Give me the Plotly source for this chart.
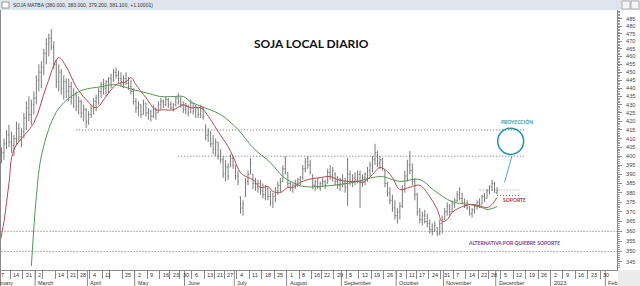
import math
import pandas as pd
import plotly.graph_objects as go

# ---------------- data ----------------
highs = [
    403, 405, 410, 415, 418, 414, 412, 420, 419, 416,
    425, 432, 435, 433, 438, 448, 455, 457, 465, 472,
    475, 478, 470, 458, 455, 452, 448, 446, 446, 444,
    440, 438, 435, 433, 430, 428, 426, 430, 434, 436,
    440, 444, 446, 445, 447, 449, 452, 453, 451, 450,
    448, 450, 447, 445, 440, 434, 432, 430, 433, 431,
    428, 427, 430, 428, 432, 434, 433, 435, 434, 432,
    431, 435, 437, 435, 432, 431, 430, 433, 431, 430,
    428, 430, 429, 418, 416, 414, 412, 410, 408, 404,
    400, 398, 396, 401, 400, 395, 392, 378, 376, 388,
    392, 399, 390, 388, 387, 387, 385, 384, 383, 381,
    380, 383, 386, 388, 395, 400, 391, 386, 385, 387,
    388, 389, 395, 399, 400, 398, 390, 387, 388, 386,
    388, 387, 393, 395, 394, 391, 389, 388, 390, 388,
    399, 392, 390, 391, 392, 392, 390, 391, 394, 397,
    400, 407, 403, 400, 399, 392, 386, 383, 379, 376,
    372, 375, 384, 392, 398, 403, 396, 388, 380, 372,
    370, 371, 369, 366, 364, 365, 362, 366, 368, 372,
    375, 374, 376, 377, 381, 383, 380, 377, 376, 373,
    372, 374, 376, 377, 379, 380, 382, 384, 387, 386,
    383]
lows = [
    392, 396, 398, 404, 405, 402, 400, 406, 408, 405,
    410, 415, 420, 418, 424, 430, 438, 440, 448, 455,
    460, 464, 452, 440, 438, 436, 433, 434, 432, 430,
    428, 426, 424, 422, 420, 416, 418, 422, 424, 426,
    430, 434, 436, 435, 437, 440, 444, 446, 443, 441,
    440, 442, 439, 436, 430, 425, 423, 422, 424, 423,
    421, 420, 422, 421, 425, 427, 428, 429, 428, 427,
    426, 429, 430, 428, 425, 424, 423, 425, 424, 422,
    422, 422, 421, 409, 408, 405, 401, 400, 398, 396,
    388, 386, 387, 394, 393, 387, 384, 369, 368, 378,
    384, 390, 382, 381, 380, 379, 377, 376, 376, 373,
    372, 375, 379, 380, 386, 390, 383, 381, 380, 382,
    383, 384, 387, 391, 393, 390, 382, 381, 382, 381,
    383, 382, 385, 387, 386, 384, 382, 381, 383, 380,
    373, 384, 383, 384, 385, 372, 383, 384, 386, 389,
    391, 395, 394, 393, 392, 383, 378, 374, 370, 366,
    364, 366, 372, 380, 386, 390, 384, 376, 368, 364,
    363, 364, 362, 359, 358, 360, 357.6, 358, 359, 366,
    368, 368, 370, 372, 375, 376, 374, 372, 371, 368,
    367, 369, 371, 372, 374, 375, 377, 379, 381, 380,
    379.2]
opens = [
    394, 400, 402, 407, 412, 408, 406, 410, 416, 411,
    414, 422, 428, 424, 430, 434, 445, 450, 453, 462,
    468, 472, 466, 455, 444, 450, 440, 444, 438, 441,
    434, 436, 429, 432, 425, 427, 420, 424, 428, 432,
    434, 438, 442, 440, 444, 446, 445, 450, 448, 446,
    444, 446, 443, 441, 438, 432, 428, 430, 424, 431,
    425, 426, 423, 428, 425, 430, 432, 430, 433, 430,
    428, 430, 434, 432, 430, 427, 429, 425, 431, 426,
    428, 424, 428, 418, 412, 414, 407, 404, 408, 400,
    398, 390, 394, 394, 399, 395, 389, 378, 372, 378,
    386, 390, 390, 385, 383, 385, 381, 379, 382, 378,
    375, 378, 381, 384, 386, 393, 391, 385, 383, 384,
    385, 387, 388, 393, 397, 395, 390, 384, 386, 383,
    385, 386, 385, 391, 389, 390, 386, 384, 387, 385,
    383, 390, 386, 388, 387, 390, 386, 388, 390, 392,
    395, 398, 402, 396, 398, 392, 385, 380, 376, 372,
    368, 370, 373, 382, 389, 395, 392, 386, 379, 370,
    366, 368, 365, 364, 361, 360, 362, 359, 364, 366,
    370, 373, 370, 374, 376, 379, 377, 375, 373, 372,
    369, 371, 373, 375, 374, 378, 377, 381, 383, 385,
    380]
closes = [
    400, 402, 407, 412, 408, 406, 410, 416, 411, 414,
    422, 428, 424, 430, 434, 445, 450, 453, 462, 468,
    472, 466, 455, 444, 450, 440, 444, 438, 441, 434,
    436, 429, 432, 425, 427, 420, 424, 428, 432, 434,
    438, 442, 440, 444, 446, 442, 450, 448, 446, 444,
    446, 443, 441, 438, 432, 428, 430, 424, 431, 425,
    426, 423, 428, 425, 430, 432, 430, 433, 430, 428,
    430, 434, 432, 430, 427, 429, 425, 431, 426, 428,
    424, 428, 423, 412, 414, 407, 404, 408, 400, 398,
    390, 394, 389, 399, 395, 389, 386, 372, 374, 386,
    390, 396, 385, 383, 385, 381, 379, 382, 378, 375,
    378, 381, 384, 386, 393, 397, 385, 383, 384, 385,
    387, 388, 393, 397, 395, 391, 384, 386, 383, 385,
    386, 384, 391, 389, 392, 386, 384, 387, 385, 383,
    390, 386, 388, 387, 390, 386, 388, 390, 392, 395,
    398, 402, 396, 398, 393, 385, 380, 376, 372, 368,
    370, 373, 382, 389, 395, 392, 386, 379, 370, 366,
    368, 365, 364, 361, 360, 363, 359, 364, 366, 370,
    373, 370, 374, 376, 379, 377, 375, 373, 372, 369,
    371, 373, 375, 374, 378, 377, 381, 383, 385, 380,
    381.1]

ma_fast_dates = [
    "2022-02-07", "2022-02-09", "2022-02-11", "2022-02-15", "2022-02-25", "2022-03-08", "2022-03-15",
    "2022-03-18", "2022-03-25", "2022-03-31", "2022-04-06", "2022-04-12", "2022-04-20",
    "2022-04-26", "2022-04-28", "2022-05-02", "2022-05-06", "2022-05-12", "2022-05-17",
    "2022-05-24", "2022-05-31", "2022-06-03", "2022-06-09", "2022-06-15", "2022-06-22",
    "2022-06-28", "2022-06-30", "2022-07-05", "2022-07-08", "2022-07-12", "2022-07-15",
    "2022-07-20", "2022-07-22", "2022-07-27", "2022-08-01", "2022-08-03", "2022-08-08",
    "2022-08-11", "2022-08-19", "2022-08-25", "2022-08-30", "2022-09-05", "2022-09-09",
    "2022-09-13", "2022-09-19", "2022-09-22", "2022-09-27", "2022-09-29", "2022-10-04",
    "2022-10-12", "2022-10-18", "2022-10-24", "2022-10-27", "2022-10-31", "2022-11-02",
    "2022-11-04", "2022-11-10", "2022-11-16", "2022-11-23", "2022-11-25", "2022-11-29",
    "2022-12-01"]
ma_fast_vals = [
    352.0, 365.0, 385.0, 403.7, 419.2, 440.9, 459.2,
    453.5, 440.9, 433.0, 428.1, 434.9, 442.2,
    444.0, 446.5, 442.2, 434.2, 426.9, 426.9,
    426.9, 429.9, 428.1, 428.1, 421.0, 414.0,
    405.4, 399.8, 390.9, 388.2, 387.1, 382.8,
    383.4, 380.7, 380.1, 382.8, 382.8, 385.5,
    387.1, 388.2, 388.7, 387.1, 386.1, 386.1,
    385.5, 389.8, 393.7, 391.5, 388.2, 381.7,
    383.0, 384.0, 378.0, 371.2, 365.0, 366.0,
    369.6, 372.7, 373.8, 372.7, 372.2, 373.8,
    377.5]

ma_slow_dates = [
    "2022-02-24", "2022-03-02", "2022-03-04", "2022-03-11", "2022-03-17", "2022-03-23",
    "2022-03-30", "2022-04-08", "2022-04-19", "2022-04-25", "2022-04-29", "2022-05-06",
    "2022-05-16", "2022-05-24", "2022-05-31", "2022-06-03", "2022-06-09", "2022-06-23",
    "2022-07-04", "2022-07-12", "2022-07-21", "2022-07-28", "2022-08-03", "2022-08-09",
    "2022-08-19", "2022-08-30", "2022-09-07", "2022-09-19", "2022-09-23", "2022-09-29",
    "2022-10-04", "2022-10-18", "2022-10-26", "2022-11-04", "2022-11-15", "2022-11-23",
    "2022-11-25", "2022-11-29", "2022-12-01"]
ma_slow_vals = [
    343.0, 378.0, 400.0, 422.8, 431.1, 436.0,
    439.1, 440.9, 442.2, 440.9, 439.1, 437.2,
    434.9, 434.9, 434.9, 431.7, 429.0, 424.0,
    415.2, 404.8, 396.4, 388.7, 385.5, 383.4,
    383.4, 384.3, 385.5, 388.2, 388.7, 387.1,
    386.1, 387.1, 381.0, 375.3, 373.8, 372.2,
    371.2, 371.7, 372.7]

# horizontal reference levels: (from, to, value, colour)
levels = [
    ("2022-03-25", "2022-12-16", 415, "#6a6a6a"),
    ("2022-05-27", "2022-12-16", 400, "#6a6a6a"),
    ("2022-11-22", "2022-12-14", 381.5, "#8a8a8a"),
    ("2022-12-01", "2022-12-14", 378.5, "#b03a3a"),
    ("2022-01-31", "2023-02-10", 360, "#6a6a6a"),
    ("2022-01-31", "2023-02-10", 350, "#6a6a6a"),
]
y_ticks = list(range(345, 490, 5))
header = "SOJA MATBA (380.000, 383.000, 379.200, 381.100, +1.10001)"

# ---------------- trading calendar ----------------
holidays = ["2022-02-28", "2022-03-01", "2022-03-24", "2022-04-14", "2022-04-15",
            "2022-05-18", "2022-05-25", "2022-06-17", "2022-06-20", "2022-08-15",
            "2022-10-07", "2022-10-10", "2022-11-21"]
cal = [d.strftime("%Y-%m-%d") for d in pd.bdate_range("2022-01-03", "2023-03-31")
       if d.strftime("%Y-%m-%d") not in holidays]
base = cal.index("2022-02-07")
pos = {d: i - base for i, d in enumerate(cal)}
dates = cal[base:base + len(closes)]
xs = [pos[d] for d in dates]

XR = [0.4, 248.2]
YR = [math.log10(341), math.log10(491)]


def px(p):
    """position on the trading-day scale -> paper fraction"""
    return (p - XR[0]) / (XR[1] - XR[0])


fig = go.Figure()
fig.add_trace(go.Ohlc(
    x=xs, open=opens, high=highs, low=lows, close=closes,
    increasing=dict(line=dict(color="#7a7a7a", width=1)),
    decreasing=dict(line=dict(color="#7a7a7a", width=1)),
    tickwidth=0.35, hoverinfo="skip", showlegend=False))

for (a, b, v, c) in levels:
    fig.add_trace(go.Scatter(x=[pos[a], pos[b]], y=[v, v], mode="lines",
                             line=dict(color=c, width=1, dash="1px,2px"),
                             hoverinfo="skip", showlegend=False))

fig.add_trace(go.Scatter(x=[pos[d] for d in ma_slow_dates], y=ma_slow_vals, mode="lines",
                         line=dict(color="#4f9a4f", width=1, shape="spline", smoothing=1),
                         hoverinfo="skip", showlegend=False, cliponaxis=True))
fig.add_trace(go.Scatter(x=[pos[d] for d in ma_fast_dates], y=ma_fast_vals, mode="lines",
                         line=dict(color="#b8484c", width=1, shape="spline", smoothing=1),
                         hoverinfo="skip", showlegend=False, cliponaxis=True))

# ---------------- bottom date scale ----------------
week_starts, month_starts = [], []
prev_w, prev_m = None, None
for d in cal:
    if d < "2022-01-31" or d > "2023-02-01":
        continue
    ts = pd.Timestamp(d)
    w = ts.isocalendar()[:2]
    m = (ts.year, ts.month)
    if w != prev_w and d < "2023-02-01":
        week_starts.append(d)
    if m != prev_m:
        month_starts.append(d)
    prev_w, prev_m = w, m
hidden_labels = ["2022-03-07", "2022-04-18"]
month_names = {2: "February", 3: "March", 4: "April", 5: "May", 6: "June", 7: "July",
               8: "August", 9: "September", 10: "October", 11: "November", 12: "December"}
axis_font = dict(size=5.5, color="#333333", family="Liberation Sans")

annotations = []
shapes = []
for d in week_starts:
    if pos[d] < 0 or d in hidden_labels:
        continue
    annotations.append(dict(x=px(pos[d] - 0.5), y=0, xref="paper", yref="paper", xanchor="left",
                            yanchor="middle", yshift=-5, xshift=1, text=str(pd.Timestamp(d).day),
                            showarrow=False, font=axis_font))
for d in month_starts:
    ts = pd.Timestamp(d)
    name = month_names.get(ts.month, "") if ts.year == 2022 else ("2023" if ts.month == 1 else "Feb")
    annotations.append(dict(x=px(pos[d] - 0.5), y=0, xref="paper", yref="paper", xanchor="left",
                            yanchor="middle", yshift=-12.5, xshift=1, text=name,
                            showarrow=False, font=axis_font))
    if pos[d] >= XR[0]:
        shapes.append(dict(type="line", xref="x", yref="paper", x0=pos[d] - 0.5,
                           x1=pos[d] - 0.5, y0=0, y1=-16 / 260,
                           line=dict(color="#8a8a8a", width=1)))

# ---------------- chart annotations ----------------
annotations += [
    dict(x=312 / 617, y=(270 - 34) / 260, xref="paper", yref="paper", text="<b>SOJA LOCAL DIARIO</b>",
         showarrow=False, font=dict(size=12, color="#111111", family="Lato")),
    dict(x=pos["2022-12-13"], y=math.log10(420), xref="x", yref="y", text="<b>PROYECCIÓN</b>",
         showarrow=False, font=dict(size=5, color="#2a9bb0", family="Lato")),
    dict(x=pos["2022-12-12"], y=math.log10(376), xref="x", yref="y", text="<b>SOPORTE</b>",
         showarrow=False, font=dict(size=5, color="#b03a3a", family="Lato")),
    dict(x=pos["2022-12-12"], y=math.log10(354.4), xref="x", yref="y",
         text="<b>ALTERNATIVA POR QUIEBRE SOPORTE</b>",
         showarrow=False, font=dict(size=5, color="#7b3f8f", family="Lato")),
    dict(x=11 / 617, y=1 + 5 / 260, xref="paper", yref="paper", xanchor="left", yanchor="middle",
         text=header, showarrow=False, font=dict(size=5, color="#333333", family="Liberation Sans")),
]

shapes += [
    dict(type="circle", xref="x", yref="y", x0=pos["2022-12-01"] + 0.3, x1=pos["2022-12-15"] + 0.7,
         y0=401, y1=416, line=dict(color="#1d93a8", width=1.5)),
    dict(type="line", xref="x", yref="y", x0=pos["2022-12-09"], y0=400, x1=pos["2022-12-06"], y1=385.5,
         line=dict(color="#1d93a8", width=0.8)),
    # title bar
    dict(type="rect", xref="paper", yref="paper", x0=-0.01, x1=1.05, y0=1, y1=1 + 10 / 260,
         fillcolor="#dfe5ec", line=dict(width=0), layer="below"),
    dict(type="rect", xref="paper", yref="paper", x0=2 / 617, x1=9 / 617, y0=1 + 2 / 260, y1=1 + 8 / 260,
         fillcolor="#ffffff", line=dict(color="#7a7a7a", width=0.7)),
    dict(type="rect", xref="paper", yref="paper", x0=622 / 617, x1=630 / 617, y0=1 + 1 / 260,
         y1=1 + 9 / 260, fillcolor="#f4f4f4", line=dict(color="#9a9a9a", width=0.7)),
    dict(type="rect", xref="paper", yref="paper", x0=631 / 617, x1=639 / 617, y0=1 + 1 / 260,
         y1=1 + 9 / 260, fillcolor="#f4f4f4", line=dict(color="#9a9a9a", width=0.7)),
    # left frame
    dict(type="line", xref="paper", yref="paper", x0=0.5 / 617, x1=0.5 / 617, y0=-16 / 260, y1=1,
         line=dict(color="#8a8a8a", width=1)),
    # bottom-right corner
    dict(type="rect", xref="paper", yref="paper", x0=1 + 1 / 617, x1=1.05, y0=-16 / 260, y1=0,
         fillcolor="#ececec", line=dict(width=0)),
]

fig.update_layout(
    width=640, height=286, autosize=False,
    margin=dict(l=0, r=23, t=10, b=16),
    paper_bgcolor="white", plot_bgcolor="white",
    showlegend=False,
    annotations=annotations, shapes=shapes,
    xaxis=dict(range=XR, showgrid=False, zeroline=False, showline=True, linecolor="#8a8a8a",
               linewidth=1, ticks="outside", ticklen=8, tickcolor="#8a8a8a", tickwidth=1,
               tickmode="array", tickvals=[pos[d] - 0.5 for d in week_starts],
               showticklabels=False, rangeslider=dict(visible=False), fixedrange=True),
    yaxis=dict(type="log", range=YR, side="right", showgrid=False, zeroline=False,
               showline=True, linecolor="#8a8a8a", linewidth=1,
               ticks="outside", ticklen=4, tickcolor="#8a8a8a", tickwidth=1,
               tickmode="array", tickvals=y_ticks, ticktext=[str(v) for v in y_ticks],
               tickfont=dict(size=5.5, color="#444444", family="Liberation Sans"),
               ticklabelstandoff=3,
               minor=dict(tickmode="array", tickvals=list(range(342, 491)), ticks="outside",
                          ticklen=2, tickcolor="#9a9a9a", tickwidth=1),
               fixedrange=True),
)

fig.write_html("out.html")
